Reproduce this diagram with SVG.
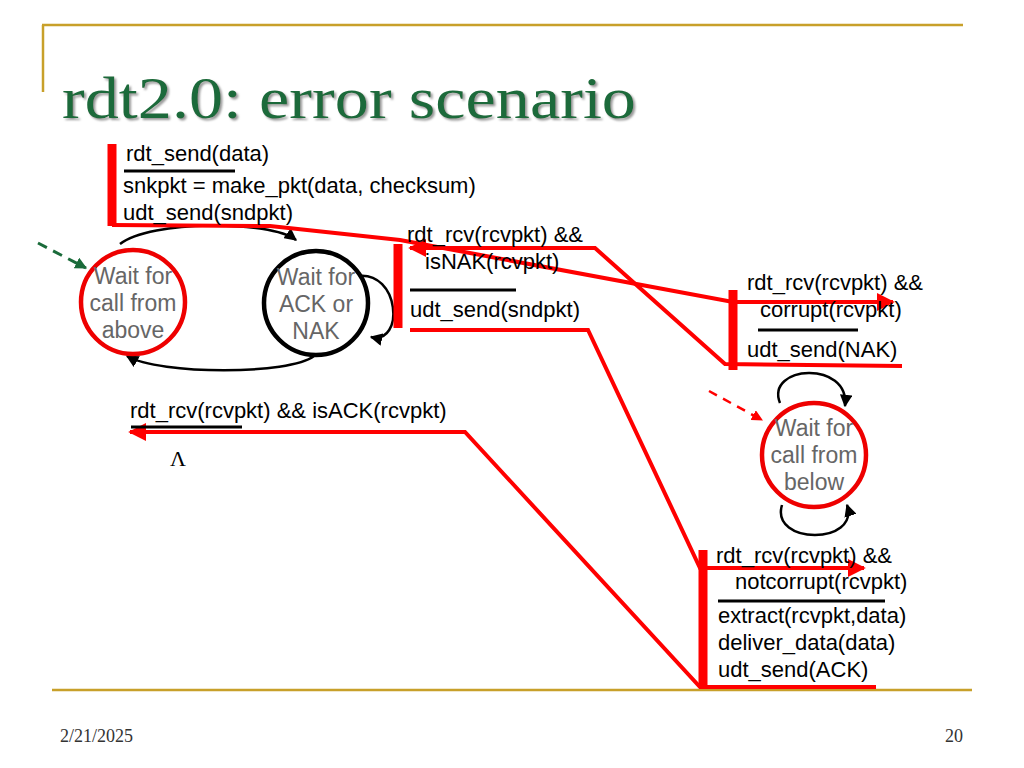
<svg xmlns="http://www.w3.org/2000/svg" width="1024" height="768" viewBox="0 0 1024 768">
<defs>
<style>
.t{font-family:"Liberation Sans",Arial,sans-serif;font-size:22px;fill:#000}
.s{font-family:"Liberation Sans",Arial,sans-serif;font-size:23px;fill:#666;text-anchor:middle}
.r{fill:none;stroke:#f00;stroke-width:4}
.bar{stroke:#f00;stroke-width:9}
.k{fill:none;stroke:#000;stroke-width:2.5}
.u{stroke:#000;stroke-width:3}
.g{stroke:#c8a02a;stroke-width:2.5}
</style>
<marker id="ak" viewBox="0 0 10 10" refX="9" refY="5" markerWidth="5" markerHeight="5" orient="auto"><path d="M0,0L10,5L0,10z" fill="#000"/></marker>
<marker id="ar" viewBox="0 0 10 10" refX="9" refY="5" markerWidth="4.5" markerHeight="4.5" orient="auto"><path d="M0,0L10,5L0,10z" fill="#f00"/></marker>
<marker id="ag" viewBox="0 0 10 10" refX="9" refY="5" markerWidth="4" markerHeight="4" orient="auto"><path d="M0,0L10,5L0,10z" fill="#1a6b3a"/></marker>
<filter id="sh"><feDropShadow dx="2" dy="2" stdDeviation="1" flood-color="#999"/></filter>
</defs>
<g id="frame">
<line class="g" x1="42" y1="25" x2="963" y2="25"/>
<line class="g" x1="43" y1="25" x2="43" y2="92"/>
<line class="g" x1="52" y1="690" x2="972" y2="690"/>
<text x="62" y="118" font-family="Liberation Serif,serif" font-size="60" fill="#1a6b3a" filter="url(#sh)" textLength="574" lengthAdjust="spacingAndGlyphs">rdt2.0: error scenario</text>
<text x="60" y="742" font-family="Liberation Serif,serif" font-size="18" fill="#333">2/21/2025</text>
<text x="945" y="742" font-family="Liberation Serif,serif" font-size="18" fill="#333">20</text>
</g>
<g id="connectors">
<path class="k" d="M120,244 C150,220 270,220 296,240" marker-end="url(#ak)"/>
<path class="k" d="M314,356 C290,375 160,375 127,356" marker-end="url(#ak)"/>
<path class="k" d="M357,276 C400,270 405,345 371,337" marker-end="url(#ak)"/>
<path class="k" d="M780,403 C765,365 850,360 845,406" marker-end="url(#ak)"/>
<path class="k" d="M782,505 C770,545 860,545 847,505" marker-end="url(#ak)"/>
<line x1="38" y1="243" x2="86" y2="268" stroke="#1a6b3a" stroke-width="3" stroke-dasharray="10,7" marker-end="url(#ag)"/>
<line x1="709" y1="391" x2="762" y2="420" stroke="#f00" stroke-width="2.5" stroke-dasharray="9,7" marker-end="url(#ar)"/>
</g>
<g id="redpath">
<line class="bar" x1="112" y1="144" x2="112" y2="226"/>
<line class="bar" x1="398" y1="244" x2="398" y2="328"/>
<line class="bar" x1="733" y1="290" x2="733" y2="370"/>
<line class="bar" x1="703" y1="550" x2="703" y2="686"/>
<polyline class="r" points="112,225 270,226 400,240 733,302 893,302" marker-end="url(#ar)"/>
<polyline class="r" points="902,366 725,364 595,248 410,248" marker-end="url(#ar)"/>
<polyline class="r" points="410,330 588,330 700,568 864,568" marker-end="url(#ar)"/>
<polyline class="r" points="876,687 700,687 465,432 130,432" marker-end="url(#ar)"/>
</g>
<g id="labels">
<text class="t" x="126" y="161">rdt_send(data)</text>
<line class="u" x1="124" y1="171" x2="235" y2="171"/>
<text class="t" x="123" y="193">snkpkt = make_pkt(data, checksum)</text>
<text class="t" x="123" y="220">udt_send(sndpkt)</text>
<text class="t" x="407" y="242">rdt_rcv(rcvpkt) &amp;&amp;</text>
<text class="t" x="425" y="269">isNAK(rcvpkt)</text>
<line class="u" x1="410" y1="290" x2="516" y2="290"/>
<text class="t" x="410" y="317">udt_send(sndpkt)</text>
<text class="t" x="747" y="290">rdt_rcv(rcvpkt) &amp;&amp;</text>
<text class="t" x="760" y="317">corrupt(rcvpkt)</text>
<line class="u" x1="758" y1="330" x2="858" y2="330"/>
<text class="t" x="747" y="357">udt_send(NAK)</text>
<text class="t" x="130" y="418">rdt_rcv(rcvpkt) &amp;&amp; isACK(rcvpkt)</text>
<line class="u" x1="131" y1="427" x2="242" y2="427"/>
<text x="170" y="466" font-family="Liberation Serif,serif" font-size="22">Λ</text>
<text class="t" x="716" y="563">rdt_rcv(rcvpkt) &amp;&amp;</text>
<text class="t" x="735" y="589">notcorrupt(rcvpkt)</text>
<line class="u" x1="718" y1="601" x2="885" y2="601"/>
<text class="t" x="718" y="623">extract(rcvpkt,data)</text>
<text class="t" x="718" y="650">deliver_data(data)</text>
<text class="t" x="718" y="677">udt_send(ACK)</text>
</g>
<g id="n1"><circle cx="133" cy="302" r="52" fill="#fff" stroke="#e00" stroke-width="4.5"/>
<text class="s" x="133" y="284">Wait for</text><text class="s" x="133" y="311">call from</text><text class="s" x="133" y="338">above</text></g>
<g id="n2"><circle cx="316" cy="303" r="52" fill="#fff" stroke="#000" stroke-width="4.5"/>
<text class="s" x="316" y="285">Wait for</text><text class="s" x="316" y="312">ACK or</text><text class="s" x="316" y="339">NAK</text></g>
<g id="n3"><circle cx="814" cy="455" r="52" fill="#fff" stroke="#e00" stroke-width="4.5"/>
<text class="s" x="814" y="436">Wait for</text><text class="s" x="814" y="463">call from</text><text class="s" x="814" y="490">below</text></g>
</svg>
